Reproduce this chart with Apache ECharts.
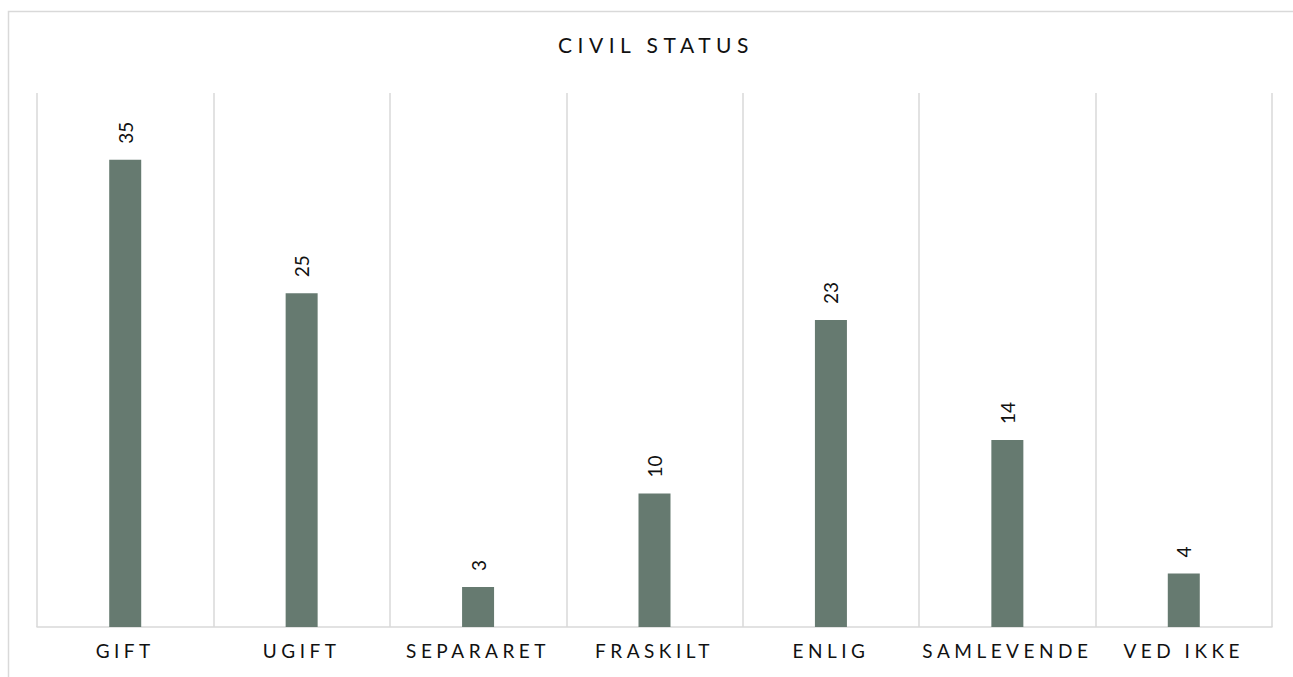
<!DOCTYPE html>
<html>
<head>
<meta charset="utf-8">
<script src="https://cdn.jsdelivr.net/npm/echarts@6/dist/echarts.min.js"></script>
<style>
  html, body { margin: 0; padding: 0; background: #fff; }
  #main { width: 1293px; height: 677px; }
</style>
</head>
<body>
<div id="main"></div>
<script>
  // data
  const categories = ['GIFT', 'UGIFT', 'SEPARARET', 'FRASKILT', 'ENLIG', 'SAMLEVENDE', 'VED IKKE'];
  const values = [35, 25, 3, 10, 23, 14, 4];
  const titleText = 'CIVIL STATUS';

  const font = 'Lato, "Noto Sans", sans-serif';
  const chart = echarts.init(document.getElementById('main'), null, { renderer: 'svg' });

  chart.setOption({
    animation: false,
    backgroundColor: '#fff',
    title: {
      text: titleText,
      left: 651,
      textAlign: 'center',
      top: 29,
      textStyle: { color: '#111', fontFamily: font, fontSize: 21, fontWeight: 'normal' }
    },
    graphic: [{
      type: 'rect',
      shape: { x: 8.5, y: 11.5, width: 1400, height: 800 },
      style: { fill: 'none', stroke: '#d9d9d9', lineWidth: 1.5 },
      silent: true
    }],
    grid: { left: 37, right: 21, top: 93, bottom: 50 },
    xAxis: {
      type: 'category',
      data: categories,
      axisLine: { lineStyle: { color: '#d9d9d9', width: 1.5 } },
      axisTick: { show: false },
      splitLine: { show: true, lineStyle: { color: '#d9d9d9', width: 1.5 } },
      axisLabel: { color: '#111', fontFamily: font, fontSize: 19, margin: 14 }
    },
    yAxis: {
      type: 'value',
      min: 0,
      max: 40,
      show: false,
      splitLine: { show: false }
    },
    series: [{
      type: 'bar',
      data: values,
      barWidth: 32,
      itemStyle: { color: '#667a70' },
      label: {
        show: true,
        position: 'top',
        distance: 16,
        rotate: 90,
        align: 'left',
        verticalAlign: 'middle',
        color: '#111',
        fontFamily: font,
        fontSize: 19
      }
    }]
  });

  // letter spacing on the text, as in the original (not on the numbers)
  function spaceLetters() {
    document.querySelectorAll('#main text').forEach(t => {
      const s = t.textContent;
      if (!/^\d+$/.test(s)) {
        t.style.letterSpacing = s === titleText ? '5.5px' : '4.5px';
      }
    });
  }
  chart.on('finished', spaceLetters);
  spaceLetters();
</script>
</body>
</html>
